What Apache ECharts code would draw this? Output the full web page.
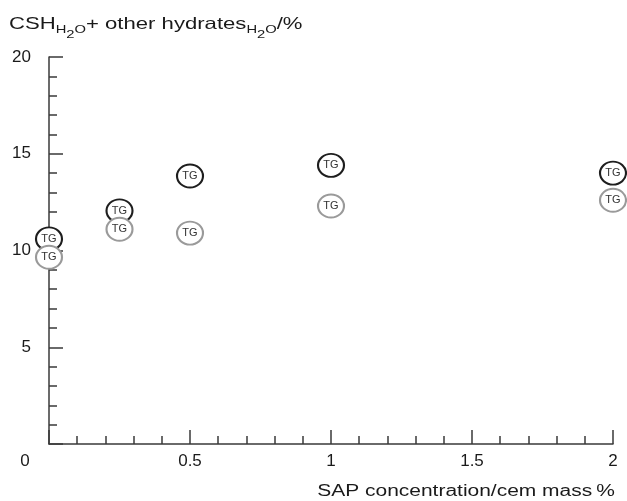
<!DOCTYPE html>
<html>
<head>
<meta charset="utf-8">
<script src="https://cdn.jsdelivr.net/npm/echarts@6/dist/echarts.min.js"></script>
<style>
  html, body { margin: 0; padding: 0; background: #fff; }
  #chart { width: 627px; height: 501px; }
</style>
</head>
<body>
<div id="chart"></div>
<script>
// SAP concentration (% of cement mass) and bound water measured by TG
const sapConcentration = [0, 0.25, 0.5, 1, 2];
const seriesDark = [10.6, 12.05, 13.85, 14.4, 14.0];
const seriesGrey = [9.65, 11.1, 10.9, 12.3, 12.6];
const pointLabel = 'TG';
const xTicks = [0, 0.5, 1, 1.5, 2];
const yTicks = [5, 10, 15, 20];

const FONT = '"Liberation Sans", Arial, Helvetica, sans-serif';
const AXIS_COLOR = '#3a3a3a';
const TEXT_COLOR = '#1a1a1a';

function pairs(xs, ys) {
  return xs.map((x, i) => [x, ys[i]]);
}

function scatterSeries(name, values, stroke) {
  return {
    name: name,
    type: 'scatter',
    clip: false,
    data: pairs(sapConcentration, values),
    symbol: 'circle',
    symbolSize: [26, 23],
    itemStyle: { color: '#ffffff', borderColor: stroke, borderWidth: 2, opacity: 1 },
    label: {
      show: true,
      position: 'inside',
      formatter: pointLabel,
      fontFamily: FONT,
      fontSize: 11,
      color: '#333'
    },
    emphasis: { disabled: true }
  };
}

const chart = echarts.init(document.getElementById('chart'), null, { renderer: 'canvas' });

chart.setOption({
  animation: false,
  backgroundColor: '#ffffff',
  grid: { left: 49, right: 14, top: 57, bottom: 57, containLabel: false },
  xAxis: {
    type: 'value',
    min: 0,
    max: 2,
    interval: 0.5,
    axisLine: { show: true, lineStyle: { color: AXIS_COLOR, width: 1.5 } },
    axisTick: { show: true, inside: true, length: 14, lineStyle: { color: AXIS_COLOR, width: 1.5 } },
    minorTick: { show: true, splitNumber: 5, length: 8, lineStyle: { color: AXIS_COLOR, width: 1.5 } },
    splitLine: { show: false },
    axisLabel: {
      margin: 9,
      fontFamily: FONT,
      fontSize: 17,
      color: TEXT_COLOR,
      formatter: function (v) {
        if (!xTicks.includes(v)) return '';
        return v === 0 ? '{o|0}' : String(v);
      },
      rich: { o: { fontFamily: FONT, fontSize: 17, color: TEXT_COLOR, padding: [0, 48, 0, 0] } }
    }
  },
  yAxis: {
    type: 'value',
    min: 0,
    max: 20,
    interval: 5,
    axisLine: { show: true, lineStyle: { color: AXIS_COLOR, width: 1.5 } },
    axisTick: { show: true, inside: true, length: 14, lineStyle: { color: AXIS_COLOR, width: 1.5 } },
    minorTick: { show: true, splitNumber: 5, length: 8, lineStyle: { color: AXIS_COLOR, width: 1.5 } },
    splitLine: { show: false },
    axisLabel: {
      margin: 18,
      fontFamily: FONT,
      fontSize: 17,
      color: TEXT_COLOR,
      padding: [6, 0, 0, 0],
      formatter: function (v) { return yTicks.includes(v) ? String(v) : ''; }
    }
  },
  graphic: [
    {
      // y-axis title with chemical subscripts
      type: 'text',
      x: 9,
      y: 16,
      scaleX: 1.34,
      style: {
        text: '{m|CSH}{s|H}{ss|2}{s|O}{m|+ other hydrates}{s|H}{ss|2}{s|O}{m|/%}',
        verticalAlign: 'top',
        rich: {
          m: { fontFamily: FONT, fontSize: 16.5, lineHeight: 19, fill: TEXT_COLOR, verticalAlign: 'top' },
          s: { fontFamily: FONT, fontSize: 11, lineHeight: 12, fill: TEXT_COLOR, verticalAlign: 'top', padding: [8.5, 0, 0, 0] },
          ss: { fontFamily: FONT, fontSize: 11, lineHeight: 12, fill: TEXT_COLOR, verticalAlign: 'top', padding: [13.5, 0, 0, 0] }
        }
      }
    },
    {
      // x-axis title, right-aligned to the axis end
      type: 'text',
      x: 615,
      y: 492,
      scaleX: 1.31,
      style: {
        text: 'SAP concentration/cem mass\u2009%',
        fontFamily: FONT,
        fontSize: 16,
        fill: TEXT_COLOR,
        align: 'right',
        verticalAlign: 'middle'
      }
    }
  ],
  series: [
    scatterSeries('dark', seriesDark, '#1e1e1e'),
    scatterSeries('grey', seriesGrey, '#9a9a9a')
  ]
});
</script>
</body>
</html>
